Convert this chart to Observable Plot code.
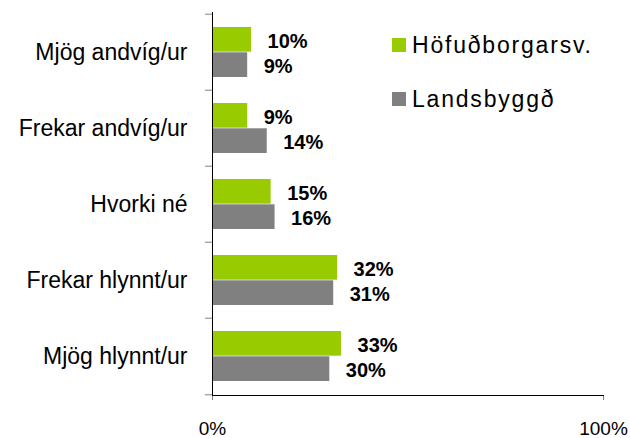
<!DOCTYPE html>
<html>
<head>
<meta charset="utf-8">
<script src="https://cdn.jsdelivr.net/npm/d3@7"></script>
<script src="https://cdn.jsdelivr.net/npm/@observablehq/plot@0.6"></script>
<style>
  html, body { margin: 0; padding: 0; background: #fff; }
  #wrap { position: relative; width: 630px; height: 438px; font-family: "Liberation Sans", Arial, sans-serif; }
  .legend { position: absolute; left: 392px; font-size: 23px; letter-spacing: 1.8px; color: #000; line-height: 1; }
  .legend span.sw { display: inline-block; width: 14px; height: 14px; margin-right: 6px; vertical-align: 1px; }
</style>
</head>
<body>
<div id="wrap"></div>
<script>
const categories = ["Mjög andvíg/ur", "Frekar andvíg/ur", "Hvorki né", "Frekar hlynnt/ur", "Mjög hlynnt/ur"];
const seriesNames = ["Höfuðborgarsv.", "Landsbyggð"];
const hofudborgarsv = [10, 9, 15, 32, 33];
const landsbyggd = [9, 14, 16, 31, 30];
const xTicks = [0, 100];
const colors = ["#99CC00", "#808080"];

const rows = [];
categories.forEach((c, i) => {
  rows.push({cat: c, series: seriesNames[0], value: hofudborgarsv[i]});
  rows.push({cat: c, series: seriesNames[1], value: landsbyggd[i]});
});
const rowsA = rows.filter(d => d.series === seriesNames[0]);
const rowsB = rows.filter(d => d.series === seriesNames[1]);

const H = 438, mt = 12, mb = 43;
const band = (H - mt - mb) / categories.length;
const pad = 13;
const barH = (band - 2 * pad) / 2;

const chart = Plot.plot({
  width: 630,
  height: H,
  marginLeft: 212,
  marginRight: 27,
  marginTop: mt,
  marginBottom: mb,
  style: {fontFamily: "'Liberation Sans', Arial, sans-serif", background: "#fff", overflow: "visible"},
  x: {domain: [0, 100], label: null},
  y: {domain: categories, padding: 0, label: null},
  marks: [
    Plot.barX(rowsA, {x: "value", y: "cat", fill: colors[0], insetTop: pad, insetBottom: band - pad - barH}),
    Plot.barX(rowsB, {x: "value", y: "cat", fill: colors[1], insetTop: pad + barH, insetBottom: pad}),
    Plot.text(rowsA, {x: "value", y: "cat", text: d => d.value + "%", dx: 16, dy: -11, textAnchor: "start", fontSize: 20, fontWeight: "bold", fill: "#000"}),
    Plot.text(rowsB, {x: "value", y: "cat", text: d => d.value + "%", dx: 16, dy: 14, textAnchor: "start", fontSize: 20, fontWeight: "bold", fill: "#000"}),
    Plot.axisY({tickSize: 0, tickPadding: 25, fontSize: 23, fill: "#000", label: null}),
    Plot.ruleY(categories, {y: d => d, dy: -band / 2, x1: 0, x2: 0, insetLeft: -7, stroke: "#808080"}),
    Plot.ruleY(categories.slice(-1), {y: d => d, dy: band / 2, x1: 0, x2: 0, insetLeft: -7, stroke: "#808080"}),
    Plot.axisX({ticks: xTicks, tickFormat: d => d + "%", tickSize: 5, tickPadding: 21, fontSize: 19, stroke: "#808080", fill: "#000", label: null}),
    Plot.frame({anchor: "left", stroke: "#000"}),
    Plot.frame({anchor: "bottom", stroke: "#000"})
  ]
});

const wrap = document.getElementById("wrap");
wrap.appendChild(chart);
seriesNames.forEach((n, i) => {
  const d = document.createElement("div");
  d.className = "legend";
  d.style.top = (34 + i * 54) + "px";
  d.innerHTML = `<span class="sw" style="background:${colors[i]}"></span>${n}`;
  wrap.appendChild(d);
});
</script>
</body>
</html>
